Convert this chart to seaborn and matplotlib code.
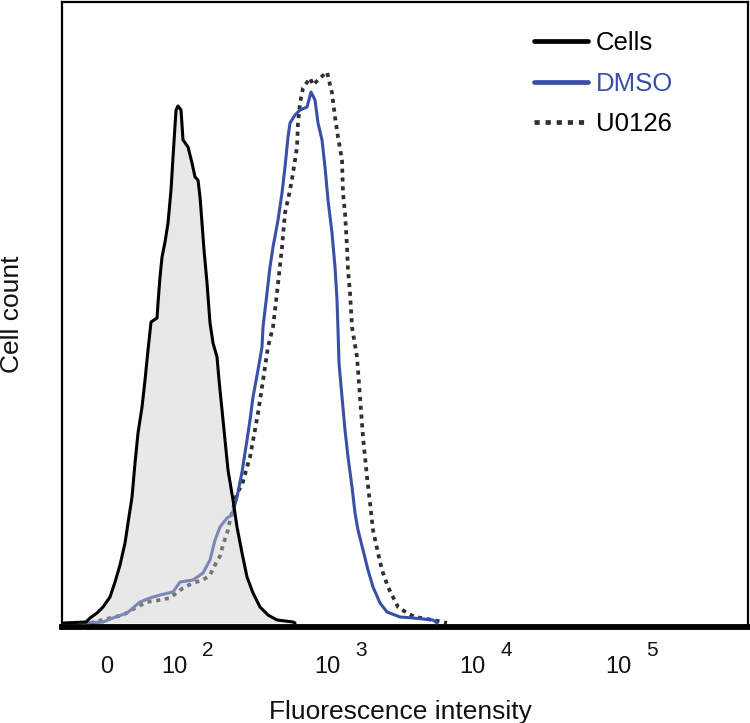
import matplotlib
matplotlib.use("Agg")
import matplotlib.pyplot as plt
import seaborn as sns
import pandas as pd

# channel position (0 = left edge of the plot) and event counts (arbitrary units)
cells_x = [2, 24, 28, 35, 41, 48, 53, 58, 63, 66, 70, 73, 76, 80, 83, 86, 89, 95, 96, 98,
           100, 103, 106, 109, 111, 114, 116, 119, 121, 126, 130, 133, 136, 138, 140, 142,
           145, 148, 151, 155, 157, 160, 163, 166, 171, 175, 180, 185, 191, 198, 206, 215,
           231, 233]
cells_y = [0, 1, 5, 10, 16, 26, 41, 58, 80, 100, 126, 160, 190, 216, 243, 273, 301, 305, 320, 346,
           366, 381, 400, 433, 466, 513, 517, 513, 483, 476, 460, 446, 443, 426, 400, 373,
           340, 300, 280, 266, 243, 213, 183, 153, 123, 96, 70, 46, 30, 16, 8, 3,
           1, 0]

dmso_x = [20, 41, 51, 65, 78, 88, 98, 111, 118, 131, 141, 148, 153, 158, 165, 170, 175, 180,
          185, 188, 191, 196, 200, 201, 205, 208, 211, 216, 220, 223, 226, 228, 233, 238,
          245, 249, 253, 256, 260, 263, 266, 270, 273, 275, 276, 277, 280, 283, 286, 290,
          293, 296, 301, 306, 311, 318, 325, 338, 351, 371, 375]
dmso_y = [0, 1, 5, 10, 21, 25, 28, 31, 41, 43, 50, 63, 83, 96, 105, 108, 126, 151,
          183, 203, 226, 253, 276, 296, 330, 356, 376, 403, 430, 456, 486, 500, 508, 513,
          516, 531, 523, 500, 483, 456, 423, 390, 356, 323, 293, 260, 226, 193, 166, 136,
          110, 93, 73, 53, 36, 20, 11, 6, 5, 3, 0]

u0126_x = [28, 61, 75, 85, 98, 108, 121, 131, 141, 148, 153, 158, 161, 166, 168, 175, 180,
           185, 188, 193, 196, 200, 203, 206, 211, 215, 220, 223, 228, 231, 235, 236, 238,
           241, 248, 251, 258, 265, 270, 273, 276, 280, 281, 283, 285, 286, 288, 290, 295,
           298, 301, 305, 308, 311, 316, 320, 326, 331, 336, 345, 353, 371, 385]
u0126_y = [0, 8, 16, 21, 23, 25, 35, 40, 43, 48, 58, 67, 78, 93, 103, 130, 138,
           156, 166, 193, 210, 236, 256, 276, 296, 330, 376, 410, 433, 450, 476, 500, 520,
           535, 545, 538, 545, 551, 530, 506, 486, 463, 430, 410, 376, 353, 330, 296, 266,
           226, 186, 146, 120, 93, 70, 53, 36, 26, 16, 10, 6, 3, 0]

tick_pos = [45, 112, 265, 410, 556]
tick_base = ["0", "10", "10", "10", "10"]
tick_exp = ["", "2", "3", "4", "5"]

BLUE = "#3a4fa6"
DOTS = "#303030"
DOT_STYLE = (0, (1.1, 1.25))

sns.set_theme(style="white")
plt.rcParams["font.family"] = ["Liberation Sans", "DejaVu Sans"]

fig = plt.figure(figsize=(7.5, 7.23), dpi=100)
ax = fig.add_axes([0.0827, 0.1328, 0.9146, 0.8644])

cells = pd.DataFrame({"x": cells_x, "y": cells_y})
dmso = pd.DataFrame({"x": dmso_x, "y": dmso_y})
u0126 = pd.DataFrame({"x": u0126_x, "y": u0126_y})

sns.lineplot(data=u0126, x="x", y="y", ax=ax, sort=False, estimator=None,
             color=DOTS, lw=2.7, linestyle=DOT_STYLE, label="U0126", zorder=2)
sns.lineplot(data=dmso, x="x", y="y", ax=ax, sort=False, estimator=None,
             color=BLUE, lw=2.2, label="DMSO", zorder=3)
ax.fill_between(cells["x"], cells["y"], 0, color="#cccccc", alpha=0.45, lw=0, zorder=4)
sns.lineplot(data=cells, x="x", y="y", ax=ax, sort=False, estimator=None,
             color="black", lw=2.2, label="Cells", zorder=5)

ax.set_xlim(0, 686)
ax.set_ylim(-4, 621)
ax.set_yticks([])
ax.set_xticks(tick_pos)
ax.set_xticklabels(tick_base, fontsize=17, color="#111111")
ax.tick_params(axis="x", length=0, pad=21)
for pos, ex in zip(tick_pos, tick_exp):
    if ex:
        ax.text(pos + 34, -0.038, ex, transform=ax.get_xaxis_transform(),
                ha="center", va="center", fontsize=15, color="#111111")

for side in ["left", "top", "right"]:
    ax.spines[side].set_linewidth(1.6)
    ax.spines[side].set_color("black")
ax.spines["bottom"].set_linewidth(4.2)
ax.spines["bottom"].set_color("black")

ax.set_xlabel("Fluorescence intensity", fontsize=19, color="#111111")
ax.xaxis.set_label_coords(0.493, -0.117)
ax.set_ylabel("Cell count", fontsize=19, color="#111111")
ax.yaxis.set_label_coords(-0.056, 0.5)

handles, labels = ax.get_legend_handles_labels()
order = [labels.index(n) for n in ["Cells", "DMSO", "U0126"]]
leg = ax.legend([handles[i] for i in order], [labels[i] for i in order],
                loc="upper left", bbox_to_anchor=(0.655, 0.99), frameon=False,
                fontsize=18.5, handlelength=2.1, handletextpad=0.3, labelspacing=0.64,
                labelcolor=["black", BLUE, "black"])
for line in leg.get_lines():
    line.set_linewidth(3.4)

fig.savefig("out.png", dpi=100, facecolor="white")
